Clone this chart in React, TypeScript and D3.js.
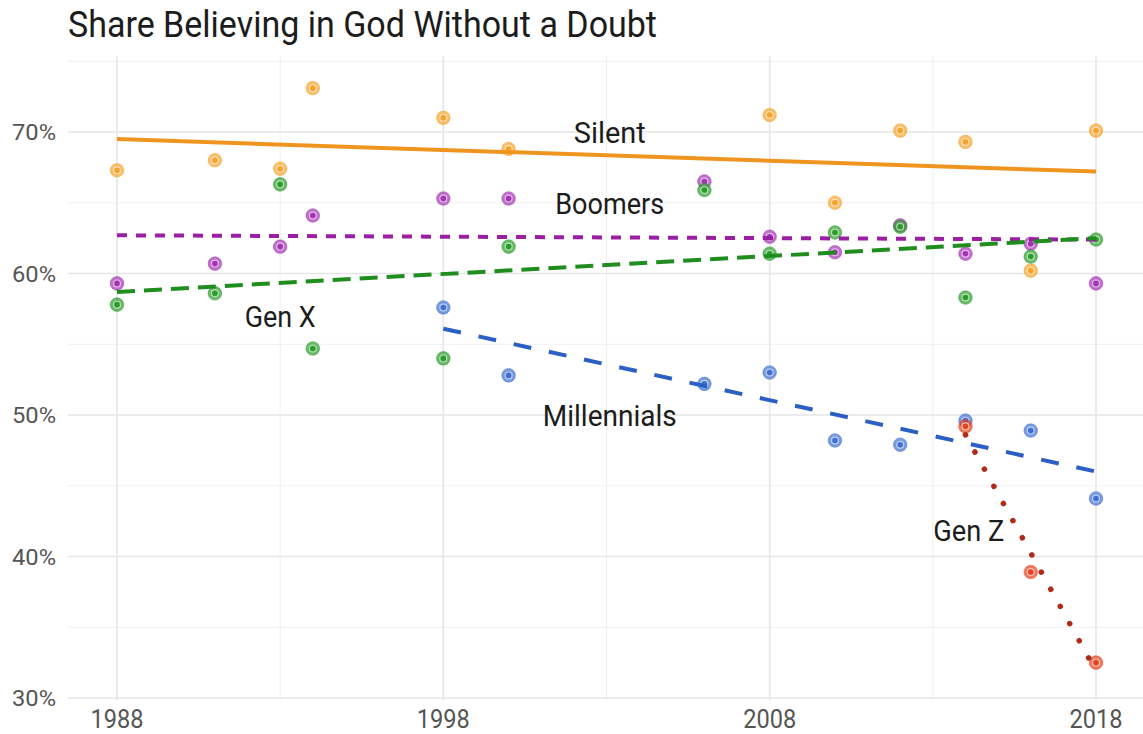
import React from "react";
import * as d3 from "d3";

const years = [1988, 1991, 1993, 1994, 1998, 2000, 2006, 2008, 2010, 2012, 2014, 2016, 2018];
const silentValues = [67.3, 68.0, 67.4, 73.1, 71.0, 68.8, null, 71.2, 65.0, 70.1, 69.3, 60.2, 70.1];
const boomerValues = [59.3, 60.7, 61.9, 64.1, 65.3, 65.3, 66.5, 62.6, 61.5, 63.4, 61.4, 62.1, 59.3];
const genXValues = [57.8, 58.6, 66.3, 54.7, 54.0, 61.9, 65.9, 61.4, 62.9, 63.3, 58.3, 61.2, 62.4];
const millennialValues = [null, null, null, null, 57.6, 52.8, 52.2, 53.0, 48.2, 47.9, 49.6, 48.9, 44.1];
const genZValues = [null, null, null, null, null, null, null, null, null, null, 49.2, 38.9, 32.5];

const seriesNames = ["Silent", "Boomers", "Gen X", "Millennials", "Gen Z"];
const trendStartYear = [1988, 1988, 1988, 1998, 2014];
const trendEndYear = [2018, 2018, 2018, 2018, 2018];
const trendStartValue = [69.5, 62.7, 58.7, 56.1, 48.6];
const trendEndValue = [67.2, 62.4, 62.5, 46.0, 31.9];

const yTicks = [30, 40, 50, 60, 70];
const yMinor = [35, 45, 55, 65, 75];
const xTicks = [1988, 1998, 2008, 2018];
const xMinor = [1993, 2003, 2013];

const allValues = [silentValues, boomerValues, genXValues, millennialValues, genZValues];
const pointColors = ["#F5A32A", "#A534B5", "#2A9C2A", "#3F6FD2", "#E5431E"];
const lineColors = ["#EF951F", "#9A1FA2", "#1F8E1F", "#2B5FC4", "#B02A1A"];
const dashes = ["", "10 9", "18 9", "18 18", "0.1 19.5"];
const caps = ["butt", "butt", "butt", "butt", "round"];
const widths = [4, 4, 4, 4, 5.5];
const labelPos = [
  { year: 2003.1, value: 70.0, w: 72 },
  { year: 2003.1, value: 65.0, w: 109 },
  { year: 1993.0, value: 57.0, w: 71 },
  { year: 2003.1, value: 50.0, w: 134 },
  { year: 2014.1, value: 41.9, w: 71 },
];

export default function App() {
  const width = 1143;
  const height = 734;
  const x = d3.scaleLinear().domain([1988, 2018]).range([117, 1096]);
  const y = d3.scaleLinear().domain([30, 70]).range([698, 132]);
  const panelLeft = 68;
  const panelRight = 1143;
  const panelTop = 56;
  const panelBottom = 700;
  const font = "Roboto, 'DejaVu Sans', sans-serif";

  return (
    <svg width={width} height={height} style={{ position: "absolute", left: 0, top: 0, background: "#fff" }}>
      <rect x={0} y={0} width={width} height={height} fill="#ffffff" />
      {yMinor.map((v) => (
        <line key={"ym" + v} x1={panelLeft} x2={panelRight} y1={y(v)} y2={y(v)} stroke="#f0f0f0" strokeWidth={1} />
      ))}
      {xMinor.map((v) => (
        <line key={"xm" + v} x1={x(v)} x2={x(v)} y1={panelTop} y2={panelBottom} stroke="#f0f0f0" strokeWidth={1} />
      ))}
      {yTicks.map((v) => (
        <line key={"yt" + v} x1={panelLeft} x2={panelRight} y1={y(v)} y2={y(v)} stroke="#e6e6e6" strokeWidth={1.6} />
      ))}
      {xTicks.map((v) => (
        <line key={"xt" + v} x1={x(v)} x2={x(v)} y1={panelTop} y2={panelBottom} stroke="#e6e6e6" strokeWidth={1.6} />
      ))}
      {yTicks.map((v) => (
        <text key={"yl" + v} x={56} y={y(v) + 8} textAnchor="end" fontFamily={font} fontSize={22} fill="#555" textLength={44} lengthAdjust="spacingAndGlyphs">
          {v + "%"}
        </text>
      ))}
      {xTicks.map((v) => (
        <text key={"xl" + v} x={x(v)} y={728} textAnchor="middle" fontFamily={font} fontSize={25} fill="#555" textLength={53} lengthAdjust="spacingAndGlyphs">
          {String(v)}
        </text>
      ))}
      {allValues.map((vals, si) => (
        <g key={"pts" + si}>
          {vals.map((v, i) =>
            v == null ? null : (
              <g key={i}>
                <circle cx={x(years[i])} cy={y(v)} r={6.8} fill={pointColors[si]} fillOpacity={0.7} stroke={pointColors[si]} strokeOpacity={0.5} strokeWidth={1} />
                <circle cx={x(years[i])} cy={y(v)} r={3.4} fill={pointColors[si]} stroke="#ffffff" strokeOpacity={0.6} strokeWidth={1.2} />
              </g>
            )
          )}
        </g>
      ))}
      {seriesNames.map((n, si) => (
        <line
          key={"tr" + si}
          x1={x(trendStartYear[si])}
          x2={x(trendEndYear[si])}
          y1={y(trendStartValue[si])}
          y2={y(trendEndValue[si])}
          stroke={lineColors[si]}
          strokeWidth={widths[si]}
          strokeDasharray={dashes[si] || undefined}
          strokeLinecap={caps[si] as any}
        />
      ))}
      {seriesNames.map((n, si) => (
        <text
          key={"lab" + si}
          x={x(labelPos[si].year)}
          y={y(labelPos[si].value) + 11}
          textAnchor="middle"
          fontFamily={font}
          fontSize={30}
          fill="#1c1c1c"
          textLength={labelPos[si].w}
          lengthAdjust="spacingAndGlyphs"
        >
          {n}
        </text>
      ))}
      <text x={68} y={37} fontFamily={font} fontSize={37} fill="#1c1c1c" textLength={589} lengthAdjust="spacingAndGlyphs">
        Share Believing in God Without a Doubt
      </text>
    </svg>
  );
}
